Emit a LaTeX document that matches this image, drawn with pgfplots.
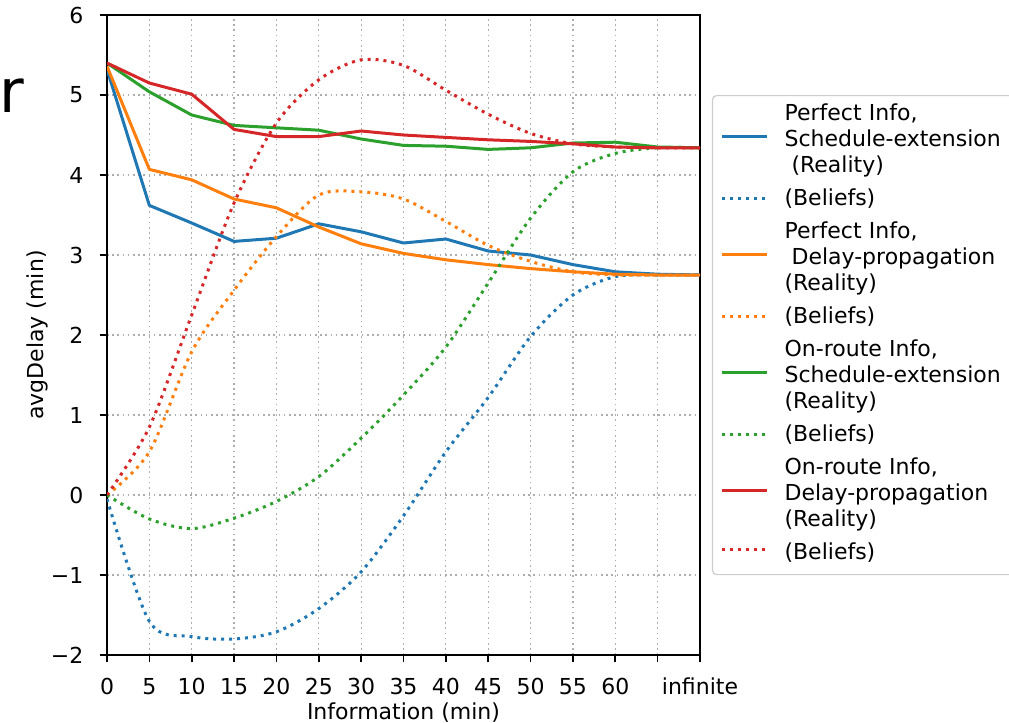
\documentclass[border=0pt]{standalone}
\usepackage{fontspec}
\setmainfont{DejaVu Sans}
\usepackage{pgfplots}
\pgfplotsset{compat=1.18}
\definecolor{tabblue}{HTML}{1F77B4}
\definecolor{taborange}{HTML}{FF7F0E}
\definecolor{tabgreen}{HTML}{2CA02C}
\definecolor{tabred}{HTML}{D62728}
\tikzset{
  real/.style={line width=1.5bp, line join=round},
  belief/.style={line width=1.5bp, dash pattern=on 1.5bp off 2.475bp, smooth},
}
\newcommand{\sA}{\rule[-3.9bp]{0pt}{13bp}}
\newcommand{\sB}{\rule[-7.4bp]{0pt}{16.5bp}}
\begin{document}
\begin{tikzpicture}[font=\fontsize{11bp}{13bp}\selectfont]
\useasboundingbox (0,0) rectangle (504.5bp,361.5bp);
\node[anchor=base west, inner sep=0pt, font=\fontsize{30bp}{34bp}\selectfont] at (-0.5bp,305bp) {r};
\begin{axis}[
  at={(53.5bp,34bp)}, anchor=south west,
  scale only axis, width=296.5bp, height=320bp,
  xmin=0, xmax=70, ymin=-2, ymax=6,
  xtick={0,5,...,70},
  xticklabels={0,5,10,15,20,25,30,35,40,45,50,55,60,{},infinite},
  ytick={-2,-1,...,6},
  yticklabels={−2,−1,0,1,2,3,4,5,6},
  tick align=outside, tick pos=left,
  major tick length=3.5bp,
  every tick/.style={black, line width=0.8bp},
  axis line style={line width=0.8bp},
  grid=major,
  grid style={draw=black!32, line width=0.6bp, dash pattern=on 0.8bp off 1.8bp},
  xticklabel style={yshift=-4.6bp},
  yticklabel style={xshift=-4.8bp},
  xlabel={Information (min)},
  ylabel={avgDelay (min)},
  xlabel shift=-3bp,
  ylabel shift=-5.5bp,
  legend cell align=left,
  legend image code/.code={\draw[#1] (0bp,0.27em) -- (22.5bp,0.27em);},
  legend style={at={(1.0202,0.875)}, anchor=north west,
    draw=black!20, line width=0.6bp, rounded corners=2bp, fill=white,
    inner xsep=4bp, inner ysep=3.5bp, row sep=0bp,
    nodes={inner ysep=0pt, text depth=, text height=, text width=130bp, align=left},
    /tikz/every odd column/.append style={column sep=6bp},
    font=\fontsize{11bp}{13bp}\selectfont},
]
% Perfect Info, Schedule-extension
\addlegendimage{empty legend}
\addlegendentry{\sA Perfect Info,}
\addplot[real, tabblue] coordinates {(0,5.32) (5,3.62) (10,3.40) (15,3.17) (20,3.21) (25,3.39) (30,3.29) (35,3.15) (40,3.20) (45,3.05) (50,3.00) (55,2.88) (60,2.79) (65,2.76) (70,2.75)};
\addlegendentry{\sA Schedule-extension}
\addlegendimage{empty legend}
\addlegendentry{\sB\hspace*{0.318em}(Reality)}
\addplot[belief, tabblue] coordinates {(0,-0.05) (5,-1.58) (10,-1.77) (15,-1.80) (20,-1.71) (25,-1.42) (30,-0.96) (35,-0.26) (40,0.54) (45,1.22) (50,1.98) (55,2.50) (60,2.73) (65,2.75) (70,2.75)};
\addlegendentry{\sB(Beliefs)}
% Perfect Info, Delay-propagation
\addlegendimage{empty legend}
\addlegendentry{\sA Perfect Info,}
\addplot[real, taborange] coordinates {(0,5.36) (5,4.07) (10,3.94) (15,3.70) (20,3.59) (25,3.35) (30,3.14) (35,3.02) (40,2.94) (45,2.88) (50,2.83) (55,2.79) (60,2.76) (65,2.75) (70,2.75)};
\addlegendentry{\sA\hspace*{0.318em}Delay-propagation}
\addlegendimage{empty legend}
\addlegendentry{\sB(Reality)}
\addplot[belief, taborange] coordinates {(0,0) (5,0.54) (10,1.79) (15,2.56) (20,3.23) (25,3.75) (30,3.79) (35,3.70) (40,3.42) (45,3.12) (50,2.92) (55,2.79) (60,2.75) (65,2.75) (70,2.75)};
\addlegendentry{\sB(Beliefs)}
% On-route Info, Schedule-extension
\addlegendimage{empty legend}
\addlegendentry{\sA On-route Info,}
\addplot[real, tabgreen] coordinates {(0,5.40) (5,5.04) (10,4.75) (15,4.62) (20,4.59) (25,4.56) (30,4.45) (35,4.37) (40,4.36) (45,4.32) (50,4.34) (55,4.40) (60,4.41) (65,4.35) (70,4.34)};
\addlegendentry{\sA Schedule-extension}
\addlegendimage{empty legend}
\addlegendentry{\sB(Reality)}
\addplot[belief, tabgreen] coordinates {(0,0) (5,-0.30) (10,-0.42) (15,-0.29) (20,-0.08) (25,0.23) (30,0.71) (35,1.25) (40,1.85) (45,2.65) (50,3.46) (55,4.04) (60,4.27) (65,4.34) (70,4.34)};
\addlegendentry{\sB(Beliefs)}
% On-route Info, Delay-propagation
\addlegendimage{empty legend}
\addlegendentry{\sA On-route Info,}
\addplot[real, tabred] coordinates {(0,5.40) (5,5.15) (10,5.01) (15,4.57) (20,4.48) (25,4.48) (30,4.55) (35,4.50) (40,4.47) (45,4.44) (50,4.42) (55,4.39) (60,4.35) (65,4.34) (70,4.34)};
\addlegendentry{\sA Delay-propagation}
\addlegendimage{empty legend}
\addlegendentry{\sB(Reality)}
\addplot[belief, tabred] coordinates {(0,0) (5,0.85) (10,2.25) (15,3.65) (20,4.65) (25,5.19) (30,5.44) (35,5.37) (40,5.06) (45,4.76) (50,4.52) (55,4.39) (60,4.35) (65,4.34) (70,4.34)};
\addlegendentry{\sA(Beliefs)}
\end{axis}
\end{tikzpicture}
\end{document}
